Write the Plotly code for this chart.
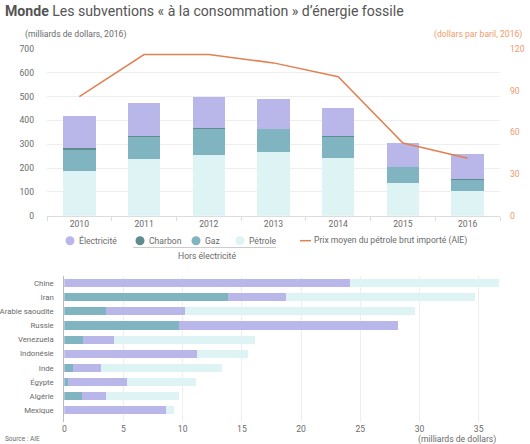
import plotly.graph_objects as go

# --- top chart: world subsidies by energy (billions USD, 2016) ---
years = ["2010", "2011", "2012", "2013", "2014", "2015", "2016"]
petrole = [186, 240, 256, 266, 242, 137, 104]
gaz = [94, 92, 111, 99, 91, 68, 47]
charbon = [3, 3, 0.5, 0.5, 3, 0.5, 3]
electricite = [136, 138, 132, 126, 118, 101, 106]
prix_petrole = [85.7, 116, 116, 110, 100, 52.3, 41.3]

# --- bottom chart: top 10 countries, 2016 ---
pays = ["Chine", "Iran", "Arabie saoudite", "Russie", "Venezuela",
        "Indonésie", "Inde", "Égypte", "Algérie", "Mexique"]
pays_gaz = [0, 13.8, 3.55, 9.7, 1.55, 0, 0.7, 0.34, 1.47, 0]
pays_elec = [24.1, 4.9, 6.65, 18.5, 2.65, 11.2, 2.4, 4.96, 2.03, 8.6]
pays_petrole = [12.6, 16.0, 19.4, 0, 11.9, 4.3, 10.2, 5.8, 6.2, 0.7]

C_ELEC = "#b9b6e9"
C_CHARBON = "#5f8c8e"
C_GAZ = "#80b4c0"
C_PETROLE = "#def3f4"
C_ORANGE = "#e2804f"
C_TEXT = "#6a6a6a"
C_ORANGE_TXT = "#ee9a6a"

W, H = 530, 444
FS = 8.6


def px_x(p):
    return p / W


def px_y(p):
    return 1 - p / H


fig = go.Figure()

for name, vals, col in [("Pétrole", petrole, C_PETROLE), ("Gaz", gaz, C_GAZ),
                        ("Charbon", charbon, C_CHARBON), ("Électricité", electricite, C_ELEC)]:
    fig.add_bar(x=years, y=vals, name=name, marker_color=col, marker_line_width=0,
                width=0.5, xaxis="x", yaxis="y", showlegend=False)

fig.add_scatter(x=years, y=prix_petrole, mode="lines", line=dict(color=C_ORANGE, width=1.5),
                xaxis="x", yaxis="y2", showlegend=False)

for name, vals, col in [("Gaz", pays_gaz, C_GAZ), ("Électricité", pays_elec, C_ELEC),
                        ("Pétrole", pays_petrole, C_PETROLE)]:
    fig.add_bar(y=pays, x=vals, orientation="h", name=name, marker_color=col,
                marker_line_width=0, width=0.57, xaxis="x3", yaxis="y3", showlegend=False)

tickfont = dict(size=FS, color=C_TEXT)

fig.update_layout(
    width=W, height=H,
    margin=dict(l=0, r=0, t=0, b=0, pad=0),
    paper_bgcolor="white", plot_bgcolor="white",
    barmode="stack",
    showlegend=False,
    font=dict(family="Roboto", color=C_TEXT),
    xaxis=dict(domain=[px_x(47), px_x(500)], type="category", anchor="y", automargin=False,
               showline=True, linecolor="#dddddd", ticks="outside", tickson="boundaries",
               ticklen=4, tickcolor="#dddddd", tickfont=tickfont, showgrid=False),
    yaxis=dict(domain=[px_y(215.7), px_y(49)], range=[0, 700], dtick=100, automargin=False,
               gridcolor="#eeeeee", zeroline=False, tickfont=tickfont, ticklabelstandoff=12),
    yaxis2=dict(overlaying="y", side="right", range=[0, 120], tickvals=[0, 30, 60, 90, 120],
                showgrid=False, zeroline=False, ticklabelstandoff=9, automargin=False,
                tickfont=dict(size=FS, color=C_ORANGE_TXT)),
    xaxis3=dict(domain=[px_x(64.3), px_x(500)], range=[0, 36.8], dtick=5, anchor="y3",
                automargin=False, gridcolor="#eeeeee", zeroline=False, tickfont=tickfont),
    yaxis3=dict(domain=[px_y(422), px_y(276)], anchor="x3", type="category", automargin=False,
                range=[9.83, -0.5], showline=True, linecolor="#bbbbbb",
                tickfont=dict(size=7.8, color=C_TEXT), ticklabelstandoff=8, showgrid=False),
)

annotations = [
    dict(x=px_x(3), y=px_y(1), xanchor="left", yanchor="top",
         text="<b>Monde</b> Les subventions « à la consommation » d’énergie fossile",
         font=dict(size=14.1, color="#555555")),
    dict(x=px_x(23), y=px_y(35), xanchor="left", yanchor="middle",
         text="(milliards de dollars, 2016)", font=dict(size=FS, color=C_TEXT)),
    dict(x=px_x(524), y=px_y(35), xanchor="right", yanchor="middle",
         text="(dollars par baril, 2016)", font=dict(size=FS, color=C_ORANGE_TXT)),
    dict(x=px_x(207), y=px_y(256), xanchor="center", yanchor="middle",
         text="Hors électricité", font=dict(size=FS, color=C_TEXT)),
    dict(x=px_x(3), y=px_y(439), xanchor="left", yanchor="middle",
         text="Source : AIE", font=dict(size=6.5, color=C_TEXT)),
    dict(x=px_x(457), y=px_y(439), xanchor="center", yanchor="middle",
         text="(milliards de dollars)", font=dict(size=FS, color=C_TEXT)),
]

shapes = []
legend_items = [("Électricité", C_ELEC, 70), ("Charbon", C_CHARBON, 140),
                ("Gaz", C_GAZ, 196), ("Pétrole", C_PETROLE, 240)]
ly = 240.7
for label, col, cx in legend_items:
    shapes.append(dict(type="circle", xref="paper", yref="paper",
                       xsizemode="pixel", ysizemode="pixel",
                       xanchor=px_x(cx), yanchor=px_y(ly), x0=-4.5, x1=4.5, y0=-4.5, y1=4.5,
                       fillcolor=col, line_width=0))
    annotations.append(dict(x=px_x(cx + 7), y=px_y(ly), xanchor="left", yanchor="middle",
                            text=label, font=dict(size=FS, color=C_TEXT)))

shapes.append(dict(type="line", xref="paper", yref="paper",
                   x0=px_x(300), x1=px_x(311), y0=px_y(ly), y1=px_y(ly),
                   line=dict(color=C_ORANGE, width=1.5)))
annotations.append(dict(x=px_x(312), y=px_y(ly), xanchor="left", yanchor="middle",
                        text="Prix moyen du pétrole brut importé (AIE)",
                        font=dict(size=FS, color=C_TEXT)))
shapes.append(dict(type="line", xref="paper", yref="paper",
                   x0=px_x(133), x1=px_x(276), y0=px_y(247.5), y1=px_y(247.5),
                   line=dict(color="#cccccc", width=1)))

for a in annotations:
    a.update(xref="paper", yref="paper", showarrow=False)

fig.update_layout(annotations=annotations, shapes=shapes)

# the page's default body margin would push the figure off the window
fig.write_html("out.html", config={"displayModeBar": False},
               post_script="document.body.style.margin='0';")
